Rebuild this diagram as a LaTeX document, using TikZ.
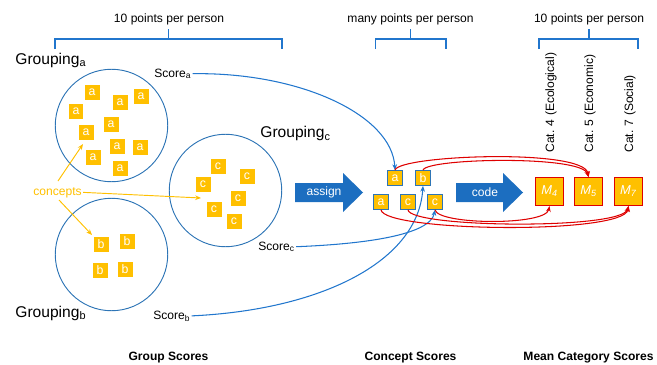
\documentclass[tikz,border=0pt]{standalone}
\usepackage{fontspec}
\setmainfont{Liberation Sans}
\usetikzlibrary{arrows.meta}
\definecolor{gold}{RGB}{255,192,0}
\definecolor{ringblue}{RGB}{46,117,182}
\definecolor{lineblue}{RGB}{33,118,205}
\definecolor{fatblue}{RGB}{28,110,192}
\definecolor{linered}{RGB}{222,0,0}

\begin{document}
\begin{tikzpicture}[x=0.03cm,y=-0.03cm,>={Stealth[length=5pt,width=4pt]},
  lbl/.style={font=\fontsize{10.3}{12}\selectfont,inner sep=1pt},
  ttl/.style={font=\bfseries\fontsize{10.3}{12}\selectfont,inner sep=1pt},
  grp/.style={font=\fontsize{13.3}{15}\selectfont,inner sep=1pt},
  ring/.style={circle,draw=ringblue,line width=0.8pt,minimum size=96pt,inner sep=0pt},
  sq/.style={fill=gold,text=white,minimum size=12.8pt,inner sep=0pt,font=\fontsize{10.5}{12}\selectfont},
  csq/.style={sq,draw=ringblue,line width=0.6pt,minimum size=12.8pt},
  msq/.style={fill=gold,draw=linered,line width=0.9pt,text=white,minimum size=23.8pt,inner sep=0pt,font=\fontsize{11}{12}\selectfont},
  brk/.style={draw=lineblue,line width=0.9pt},
  blink/.style={->,draw=lineblue,line width=0.9pt},
  rlink/.style={->,draw=linered,line width=0.9pt},
  glink/.style={->,draw=gold,line width=0.8pt}]
  \useasboundingbox (0,0) rectangle (657,364);

  %% HEADERS
  \node[lbl,anchor=base] (pp1) at (169,23) {10 points per person};
  \node[lbl,anchor=base] (pp2) at (410.5,23) {many points per person};
  \node[lbl,anchor=base] (pp3) at (589,23) {10 points per person};
  % brackets
  \draw[brk] (55,49) -- (55,39) -- (282,39) -- (282,49) (168.5,39) -- (168.5,29);
  \draw[brk] (375.5,49) -- (375.5,39) -- (446,39) -- (446,49) (410.5,39) -- (410.5,29);
  \draw[brk] (539,49) -- (539,39) -- (638,39) -- (638,49) (589,39) -- (589,29);

  %% GROUPS
  % a
  \node[ring] (ga) at (111.5,125.5) {};
  \node[grp,anchor=base west] (grpa) at (14,64) {Grouping\textsubscript{a}};
  \foreach \x/\y [count=\i] in {92/92,120/102,141/96,76/111,111/124,86/132,117/146,140/147,93/157,120/168}
    \node[sq] (a\i) at (\x,\y) {a};
  % b
  \node[ring] (gb) at (111.5,254.5) {};
  \node[grp,anchor=base west] (grpb) at (14,317) {Grouping\textsubscript{b}};
  \foreach \x/\y [count=\i] in {101/244,127/241,100/270,125/269}
    \node[sq] (b\i) at (\x,\y) {b};
  % c
  \node[ring] (gc) at (225.5,190.5) {};
  \node[grp,anchor=base west] (grpc) at (259,137.5) {Grouping\textsubscript{c}};
  \foreach \x/\y [count=\i] in {218/166,247/176,203/184,238/198,214/209,234/221}
    \node[sq] (c\i) at (\x,\y) {c};

  % concepts
  \node[lbl,anchor=base west,text=gold] (concepts) at (32,195) {concepts};
  \coordinate (ta) at (83,144);
  \coordinate (tc) at (201,198);
  \coordinate (tb) at (92,235);
  \draw[glink] (58,181) -- (ta);
  \draw[glink] (concepts.east) -- (tc);
  \draw[glink] (59,200) -- (tb);

  % scores
  \node[lbl,anchor=base west] (sa) at (153,77) {Score\textsubscript{a}};
  \node[lbl,anchor=base west] (sc) at (257,250) {Score\textsubscript{c}};
  \node[lbl,anchor=base west] (sb) at (152,319) {Score\textsubscript{b}};

  %% CONCEPT SCORES
  \node[csq] (qa1) at (395,178) {a};
  \node[csq] (qb) at (423,178) {b};
  \node[csq] (qa2) at (381,202) {a};
  \node[csq] (qc1) at (408,202) {c};
  \node[csq] (qc2) at (435,202) {c};

  % big arrows
  \fill[fatblue] (295,183) -- (343,183) -- (343,173) -- (363,192.5) -- (343,212) -- (343,202) -- (295,202) -- cycle;
  \node[lbl,text=white] (assign) at (324,192.5) {assign};
  \fill[fatblue] (456,183) -- (503,183) -- (503,173) -- (523,192.5) -- (503,212) -- (503,202) -- (456,202) -- cycle;
  \node[lbl,text=white] (code) at (485,192.5) {code};

  %% MEAN CATEGORY SCORES
  \node[msq] (m4) at (549.5,191.5) {\textit{M}\textsubscript{\textit{4}}};
  \node[msq] (m5) at (588.5,191.5) {\textit{M}\textsubscript{\textit{5}}};
  \node[msq] (m7) at (628.5,191.5) {\textit{M}\textsubscript{\textit{7}}};
  \node[lbl,rotate=90,anchor=west] (cat4) at (551,154) {Cat. 4 (Ecological)};
  \node[lbl,rotate=90,anchor=west] (cat5) at (590,154) {Cat. 5 (Economic)};
  \node[lbl,rotate=90,anchor=west] (cat7) at (630,154) {Cat. 7 (Social)};

  %% TITLES
  \node[ttl,anchor=base] (t1) at (168.5,360.5) {Group Scores};
  \node[ttl,anchor=base] (t2) at (410.5,360.5) {Concept Scores};
  \node[ttl,anchor=base] (t3) at (588.5,360.5) {Mean Category Scores};

  %% ARROWS
  \draw[blink] (sa.east) .. controls (300,72) and (392,115) .. (qa1.north);
  \draw[blink] (sc.east) .. controls (365,244) and (430,235) .. (qc2.south);
  \draw[blink] (sb.east) .. controls (320,310) and (418,262) .. (qb.south);
  \draw[rlink] (qa1.north) .. controls +(3,-15) and +(-4,-29) .. (m5.north);
  \draw[rlink] (qb.north) .. controls +(3,-12) and +(-7,-22) .. (m5.north);
  \draw[rlink] (qa2.south) .. controls +(3,22) and +(-4,29) .. (m7.south);
  \draw[rlink] (qc1.south) .. controls +(2,18) and +(-7,24) .. (m7.south);
  \draw[rlink] (qc2.south) .. controls +(3,15) and +(-4,20) .. (m4.south);
\end{tikzpicture}
\end{document}
